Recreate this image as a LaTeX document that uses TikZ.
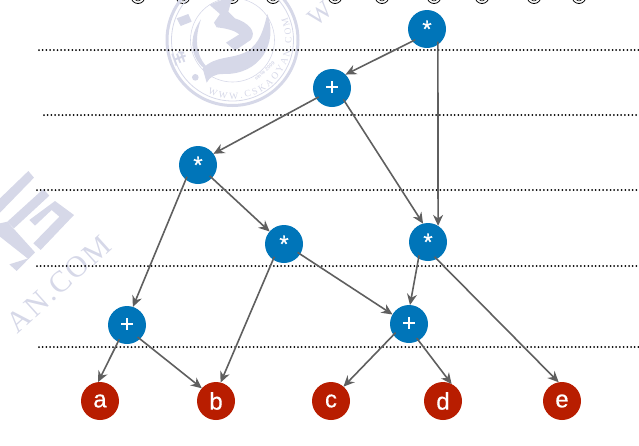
\documentclass[tikz,border=0pt]{standalone}
\usepackage{fontspec}
\setmainfont{Liberation Sans}
\newfontfamily\nodefont[FakeBold=0.4]{Liberation Sans}
\newfontfamily\wmserif{Liberation Serif}
\newfontfamily\wmcjk{Noto Sans CJK SC}
\usetikzlibrary{arrows.meta,decorations.text}
\definecolor{wm}{HTML}{D6D8E8}
\definecolor{opblue}{HTML}{0075B9}
\definecolor{leafred}{HTML}{B81D00}
\definecolor{edgegray}{HTML}{5F5F5F}
\newcommand{\sealtext}{\wmserif\fontsize{9.5}{9.5}\selectfont\color{wm}}
\tikzset{
  opnode/.style={circle,fill=opblue,minimum size=38pt,inner sep=0pt,outer sep=0pt,text=white,font=\nodefont\fontsize{24}{24}\selectfont},
  leafnode/.style={opnode,fill=leafred},
  edge/.style={draw=edgegray,line width=1.6pt,-{Stealth[length=11pt,width=10pt]},shorten <=-3pt},
  level/.style={draw=black,line width=2pt,line cap=round,dash pattern=on 0pt off 3.7pt},
  topmark/.style={draw=black,line width=0.8pt},
  zoomed/.style={shift={(120pt,0pt)},x=0.3333pt,y=-0.3333pt},
  zoomedleft/.style={shift={(0pt,-165pt)},x=0.3333pt,y=-0.3333pt}
}
\begin{document}
\begin{tikzpicture}[x=1pt,y=1pt]
\path[use as bounding box] (0,0) rectangle (639,-445);
\clip (0,0) rectangle (639,-445);
% cropped marks along the top edge
\foreach \cx in {138,183,232,273,335,382,434,482,534,579}{
  \draw[topmark] (\cx,3.5) circle (7);
  \draw[topmark,line width=0.5pt] (\cx,3.5) circle (4.5);
}
% seal watermark
\begin{scope}[shift={(232.5,-40)}]
  \draw[wm,line width=3pt] (0,0) circle (65.5);
  \draw[wm,line width=0.8pt] (0,0) circle (61);
  \draw[wm,line width=0.6pt] (0,0) circle (42);
  \path[decorate,decoration={text along path,text align=fit to path,
     text={|\sealtext|WWW.CSKAOYAN.COM}}]
     (245:59) arc (245:382:59);
  \node[rotate=-70,text=wm,font=\wmcjk\bfseries\fontsize{14}{14}\selectfont] (sealchar) at (-52,-18) {生};
  \node[rotate=42,text=wm,font=\fontsize{5}{5}\selectfont\bfseries] (sealyear) at (32,-31) {since 2009};
\end{scope}
\begin{scope}[zoomed]
  \fill[wm] (170,55) -- (205,42) -- (215,65) -- (182,78) -- cycle;
  % left thin crescent
  \fill[wm] (243,58) .. controls (205,110) and (210,170) .. (252,205)
     -- (258,198) .. controls (225,160) and (225,110) .. (243,58) -- cycle;
  % large swoosh
  \fill[wm] (442,42) .. controls (475,130) and (420,225) .. (310,222)
     .. controls (285,222) and (270,230) .. (260,248)
     -- (248,205) .. controls (290,165) and (330,180) .. (380,155)
     .. controls (420,130) and (430,90) .. (442,42) -- cycle;
  % central hook
  \fill[wm] (268,14) -- (305,0) -- (335,0) -- (325,35) -- (345,55)
     .. controls (385,68) and (412,95) .. (392,120)
     -- (345,152) -- (318,128) -- (358,103)
     .. controls (345,92) and (320,85) .. (290,82)
     -- (282,68) -- (300,42) -- cycle;
  \fill[wm] (226,232) circle (10);
\end{scope}
% other watermark fragments
\node[rotate=40,text=wm,font=\wmserif\fontsize{25}{25}\selectfont] (wmw) at (320,-14) {W};
\node[rotate=42,text=wm,font=\wmserif\addfontfeature{LetterSpace=6}\fontsize{30}{30}\selectfont] (wman) at (59,-284) {AN.COM};
\begin{scope}[zoomedleft]
  \fill[wm] (85,18) -- (102,38) -- (0,143) -- (0,100) -- cycle;
  \fill[wm] (130,72) -- (148,92) -- (42,190) -- (22,170) -- cycle;
  \fill[wm] (0,175) -- (22,170) -- (105,262) -- (85,282) -- (0,215) -- cycle;
  \fill[wm] (85,280) -- (105,262) -- (50,318) -- (28,298) -- cycle;
  \fill[wm] (165,108) -- (222,150) -- (122,255) -- (100,235) -- (178,155) -- (155,135) -- (105,182) -- (88,165) -- cycle;
\end{scope}
% level lines
\coordinate (l1a) at (39,-50);  \coordinate (l1b) at (639,-50);
\coordinate (l2a) at (44,-115); \coordinate (l2b) at (639,-115);
\coordinate (l3a) at (37,-190); \coordinate (l3b) at (639,-190);
\coordinate (l4a) at (37,-266); \coordinate (l4b) at (639,-266);
\coordinate (l5a) at (39,-347); \coordinate (l5b) at (639,-347);
\draw[level] (l1a) -- (l1b);
\draw[level] (l2a) -- (l2b);
\draw[level] (l3a) -- (l3b);
\draw[level] (l4a) -- (l4b);
\draw[level] (l5a) -- (l5b);
% nodes
\node[opnode] (top) at (427,-29) {*};
\node[opnode] (pone) at (332,-88) {\raisebox{-2.5pt}{+}};
\node[opnode] (mtwo) at (198,-165) {*};
\node[opnode] (mone) at (284,-244) {*};
\node[opnode] (mthree) at (428,-242) {*};
\node[opnode] (aone) at (127,-325) {\raisebox{-2.5pt}{+}};
\node[opnode] (atwo) at (409,-324) {\raisebox{-2.5pt}{+}};
\node[leafnode] (a) at (100,-401) {a};
\node[leafnode] (b) at (216,-401) {b};
\node[leafnode] (c) at (331,-401) {c};
\node[leafnode] (d) at (443,-401) {d};
\node[leafnode] (e) at (562,-401) {e};
% connectors
\draw[edge] (top.220) -- (pone.45);
\draw[edge] (top.-55) -- (mthree.58);
\draw[edge] (pone.213) -- (mtwo.36);
\draw[edge] (pone.-47) -- (mthree.105);
\draw[edge] (mtwo.230) -- (aone.72);
\draw[edge] (mtwo.-43) -- (mone.139);
\draw[edge] (mone.235) -- (b.76);
\draw[edge] (mone.-32) -- (atwo.150);
\draw[edge] (mthree.240) -- (atwo.87);
\draw[edge] (mthree.-63) -- (e.100);
\draw[edge] (aone.242) -- (a.96);
\draw[edge] (aone.-47) -- (b.138);
\draw[edge] (atwo.215) -- (c.49);
\draw[edge] (atwo.-60) -- (d.63);
\end{tikzpicture}
\end{document}
